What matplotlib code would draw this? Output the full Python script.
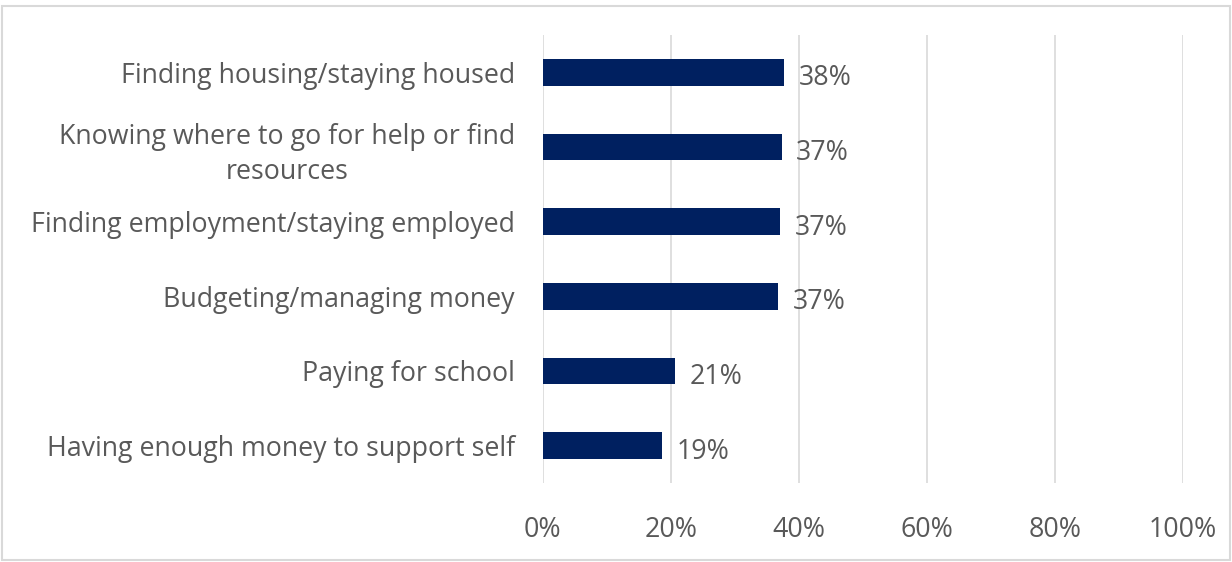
import matplotlib
matplotlib.use("Agg")
import matplotlib.pyplot as plt
from matplotlib.patches import Rectangle

plt.rcParams['font.family'] = ['Open Sans', 'DejaVu Sans']

# data
categories = [
    "Finding housing/staying housed",
    "Knowing where to go for help or find\nresources",
    "Finding employment/staying employed",
    "Budgeting/managing money",
    "Paying for school",
    "Having enough money to support self",
]
values = [37.7, 37.3, 37.0, 36.8, 20.7, 18.6]
labels = ["38%", "37%", "37%", "37%", "21%", "19%"]
xticks = [0, 20, 40, 60, 80, 100]
xtick_labels = ["0%", "20%", "40%", "60%", "80%", "100%"]

text_col = "#595959"
bar_col = "#002060"
grid_col = "#d9d9d9"
fs = 19.3

fig = plt.figure(figsize=(12.32, 5.62), dpi=100)
ax = fig.add_axes([0.4405, 0.1406, 0.9602 - 0.4405, 0.9377 - 0.1406])

pos = list(range(len(categories)))
ax.barh(pos, values, height=0.357, color=bar_col, zorder=3)
for p, v, lab in zip(pos, values, labels):
    ax.text(v + 2.3, p + 0.08, lab, va="center", ha="left", fontsize=fs, color=text_col)

ax.set_xlim(0, 100)
ax.set_ylim(len(categories) - 0.5, -0.5)
ax.set_xticks(xticks)
ax.set_xticklabels(xtick_labels)
ax.set_yticks(pos)
ax.set_yticklabels(categories, multialignment="center", linespacing=1.38)
ax.tick_params(axis="both", length=0, labelsize=fs, colors=text_col)
ax.tick_params(axis="x", pad=24)
ax.tick_params(axis="y", pad=20)

ax.grid(axis="x", color=grid_col, linewidth=1.2, zorder=0)
for s in ax.spines.values():
    s.set_visible(False)

# outer chart border
fig.patches.append(Rectangle((0.0015, 0.0035), 0.997, 0.986, transform=fig.transFigure,
                             fill=False, edgecolor=grid_col, linewidth=1.5))

fig.savefig("out.png", dpi=100)
